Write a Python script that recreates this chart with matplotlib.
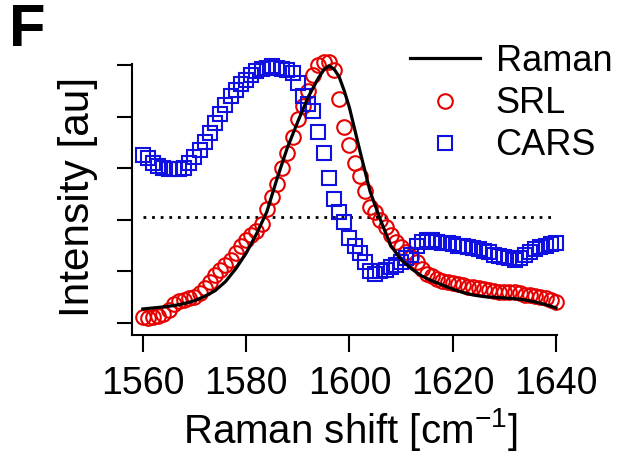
import numpy as np
import matplotlib
matplotlib.use("Agg")
import matplotlib.pyplot as plt

plt.rcParams['font.family'] = ['Liberation Sans', 'DejaVu Sans']
plt.rcParams['mathtext.fontset'] = 'custom'
plt.rcParams['mathtext.rm'] = 'Liberation Sans'
plt.rcParams['mathtext.it'] = 'Liberation Sans'

# ---- data ----
wavenumber = list(range(1560, 1641))

srl = [0.022, 0.02, 0.022, 0.025, 0.035, 0.05, 0.075, 0.085, 0.09, 0.095,
       0.10, 0.115, 0.135, 0.16, 0.185, 0.205, 0.225, 0.245, 0.27, 0.30,
       0.32, 0.34, 0.355, 0.385, 0.44, 0.49, 0.54, 0.60, 0.66, 0.72,
       0.79, 0.84, 0.90, 0.96, 1.0, 1.01, 1.01, 0.98, 0.87, 0.76,
       0.69, 0.62, 0.57, 0.51, 0.45, 0.43, 0.40, 0.37, 0.34, 0.315,
       0.295, 0.275, 0.255, 0.235, 0.21, 0.19, 0.18, 0.17, 0.162, 0.158,
       0.155, 0.15, 0.145, 0.14, 0.14, 0.135, 0.13, 0.128, 0.125, 0.12,
       0.118, 0.12, 0.12, 0.115, 0.11, 0.108, 0.105, 0.10, 0.095, 0.088,
       0.08]

cars = [0.65, 0.64, 0.62, 0.61, 0.60, 0.595, 0.595, 0.595, 0.60, 0.62,
        0.645, 0.67, 0.70, 0.735, 0.775, 0.81, 0.845, 0.88, 0.905, 0.925,
        0.94, 0.96, 0.975, 0.985, 0.99, 0.995, 0.99, 0.985, 0.98, 0.97,
        0.93, 0.88, 0.85, 0.82, 0.74, 0.66, 0.56, 0.48, 0.43, 0.39,
        0.33, 0.30, 0.27, 0.235, 0.20, 0.19, 0.20, 0.205, 0.215, 0.225,
        0.235, 0.25, 0.265, 0.30, 0.315, 0.32, 0.32, 0.315, 0.31, 0.31,
        0.305, 0.30, 0.30, 0.295, 0.29, 0.285, 0.28, 0.275, 0.265, 0.26,
        0.255, 0.25, 0.245, 0.25, 0.265, 0.275, 0.285, 0.295, 0.30, 0.305,
        0.31]

raman_x = [1560, 1562, 1564, 1566, 1568, 1570, 1572, 1574, 1576, 1578,
           1580, 1582, 1584, 1586, 1588, 1590, 1592, 1594, 1595, 1596,
           1597, 1598, 1599, 1600, 1602, 1604, 1606, 1608, 1610, 1612,
           1614, 1616, 1618, 1620, 1622, 1624, 1626, 1628, 1630, 1632,
           1634, 1636, 1638, 1640]
raman_y = [0.054, 0.058, 0.062, 0.067, 0.075, 0.086, 0.103, 0.125, 0.16, 0.21,
           0.27, 0.345, 0.43, 0.56, 0.68, 0.78, 0.875, 0.95, 0.98, 0.997,
           0.985, 0.955, 0.90, 0.835, 0.67, 0.51, 0.40, 0.30, 0.245, 0.21,
           0.182, 0.163, 0.147, 0.131, 0.118, 0.108, 0.102, 0.099, 0.097, 0.094,
           0.089, 0.081, 0.071, 0.058]

threshold_x = [1560, 1640]
threshold_y = [0.41, 0.41]

xticks = [1560, 1580, 1600, 1620, 1640]
yticks = [0.0, 0.2, 0.4, 0.6, 0.8, 1.0]

# ---- figure ----
fig = plt.figure(figsize=(6.22, 4.61), dpi=100)
ax = fig.add_axes([0.2122, 0.2733, 0.6833, 0.5879])

red = '#e60000'
blue = '#1010e0'

ax.plot(wavenumber, srl, linestyle='none', marker='o', markersize=10.5,
        markerfacecolor='none', markeredgecolor=red, markeredgewidth=1.5,
        label='SRL', clip_on=False, zorder=3)
ax.plot(wavenumber, cars, linestyle='none', marker='s', markersize=9.6,
        markerfacecolor='none', markeredgecolor=blue, markeredgewidth=1.5,
        label='CARS', clip_on=False, zorder=4)
ax.plot(raman_x, raman_y, color='black', linewidth=2.3, label='Raman',
        clip_on=False, zorder=5)
ax.plot(threshold_x, threshold_y, color='black', linewidth=2.0,
        linestyle=(0, (1, 2.1)), clip_on=False, zorder=2)

ax.set_xlim(1557.9, 1640.2)
ax.set_ylim(-0.047, 1.004)
ax.spines['top'].set_visible(False)
ax.spines['right'].set_visible(False)
for s in ('left', 'bottom'):
    ax.spines[s].set_linewidth(1.5)

ax.set_xticks(xticks)
ax.set_xticklabels([str(t) for t in xticks])
ax.set_yticks(yticks)
ax.set_yticklabels([])
ax.tick_params(axis='x', direction='out', length=12, width=1.5,
               labelsize=27, pad=10)
ax.tick_params(axis='y', direction='out', length=11, width=1.5)

ax.set_xlabel('Raman shift [cm$^{-1}$]', fontsize=29)
ax.xaxis.set_label_coords(0.513, -0.262)
ax.set_ylabel('Intensity [au]', fontsize=30.5)
ax.yaxis.set_label_coords(-0.08, 0.51)

handles, labels = ax.get_legend_handles_labels()
order = [2, 0, 1]
leg = fig.legend([handles[i] for i in order], [labels[i] for i in order],
                 loc='upper left', bbox_to_anchor=(410 / 622, 1 - 44 / 461),
                 frameon=False, fontsize=26, handlelength=1.95,
                 handletextpad=0.42, labelspacing=0.2, borderpad=0,
                 borderaxespad=0, numpoints=1)

fig.text(9 / 622, 1 - 3 / 461, 'F', fontsize=43, fontweight='bold',
         ha='left', va='top')

fig.savefig('out.png', dpi=100)
